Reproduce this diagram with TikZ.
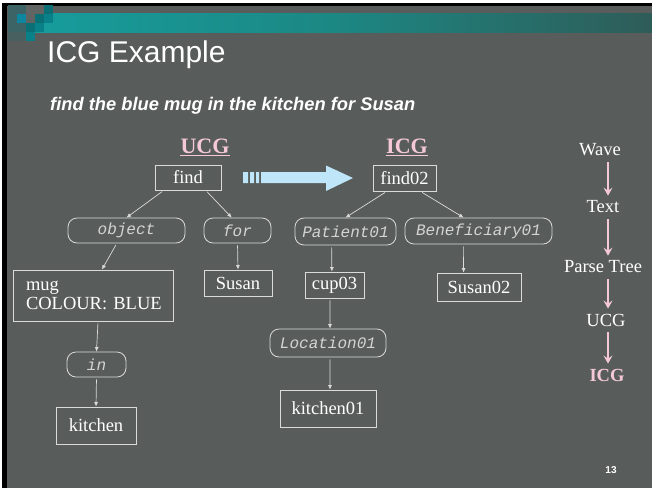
\documentclass[tikz,border=0pt]{standalone}
\usepackage{fontspec}
\setmainfont{Liberation Serif}
\newfontfamily\slidefont{Liberation Sans}
\newfontfamily\rolefont{Liberation Mono}
\usetikzlibrary{arrows.meta}

\definecolor{slidebg}{RGB}{88,93,91}
\definecolor{barleft}{RGB}{22,158,158}
\definecolor{barmid}{RGB}{28,136,132}
\definecolor{barright}{RGB}{46,92,88}
\definecolor{tealA}{RGB}{60,100,102}
\definecolor{tealB}{RGB}{14,134,160}
\definecolor{tealC}{RGB}{10,112,118}
\definecolor{tealD}{RGB}{10,128,136}
\definecolor{tealE}{RGB}{72,96,96}
\definecolor{tealG}{RGB}{96,100,98}
\definecolor{boxline}{RGB}{218,218,218}
\definecolor{rolegrey}{RGB}{212,212,212}
\definecolor{headpink}{RGB}{245,200,215}
\definecolor{bigarrow}{RGB}{190,230,248}

\begin{document}
\begin{tikzpicture}[x=1pt,y=-1pt,
  box/.style={draw=boxline,line width=0.8pt,text=white,inner sep=0pt,
    font=\fontsize{18.5}{19}\selectfont},
  role/.style={draw=boxline,line width=0.8pt,rounded corners=9pt,text=rolegrey,
    inner sep=0pt,font=\rolefont\itshape\fontsize{16}{18}\selectfont},
  link/.style={draw=boxline,line width=0.7pt,shorten <=2pt,
    -{Latex[length=4.5pt,width=4pt]}},
  head/.style={text=headpink,inner sep=0pt,font=\bfseries\fontsize{22}{24}\selectfont},
  stage/.style={text=white,inner sep=1pt,font=\fontsize{18.5}{20}\selectfont},
  flow/.style={draw=headpink,line width=1.6pt,shorten <=5pt,shorten >=4pt,
    -{Stealth[length=8pt,width=9pt,inset=3pt]}}]

\useasboundingbox (0,0) rectangle (652,488);

% slide
\fill[slidebg] (0,0) rectangle (652,488);
\fill[white] (0,0) rectangle (652,3);
\fill[black] (0,3) rectangle (652,6);
\fill[white] (0,0) rectangle (2,488);
\fill[black] (2,3) rectangle (7,488);
\shade[left color=barleft,right color=barright,middle color=barmid] (8,13) rectangle (652,32);
\foreach \cx/\cy/\cc in {8/5/tealA, 17/5/tealA, 26/5/tealG, 35/5/tealG, 44/5/tealC,
    8/14/tealA, 17/14/tealB, 26/14/tealG, 35/14/tealC, 44/14/tealD,
    8/23/tealA, 17/23/tealA, 26/23/tealC, 35/23/tealD,
    8/32/tealE, 17/32/tealE, 26/32/tealD}
  \fill[\cc] (\cx,\cy) rectangle ++(9,9);

\node[anchor=base west,text=white,inner sep=0pt,font=\slidefont\fontsize{30}{32}\selectfont] (title) at (47,62) {ICG Example};
\node[anchor=base west,text=white,inner sep=0pt,font=\slidefont\bfseries\itshape\fontsize{18.3}{20}\selectfont] (sentence) at (50,110) {find the blue mug in the kitchen for Susan};

% UCG
\node[head,anchor=base] (ucghead) at (205,153) {UCG};
\draw[headpink,line width=1.3pt] ([yshift=-2.5pt]ucghead.base west) -- ([yshift=-2.5pt]ucghead.base east);
\node[box,minimum width=66pt,minimum height=25pt] (find) at (188,177.5) {find};
\node[role,minimum width=117pt,minimum height=25pt] (object) at (126.5,230.5) {object};
\node[role,minimum width=67pt,minimum height=25pt] (forrel) at (237.5,230.5) {for};
\node[box,minimum width=160pt,minimum height=51pt,text width=134pt,align=left] (mug) at (93,295.5) {mug\\COLOUR:~BLUE};
\node[box,minimum width=68pt,minimum height=26pt] (Susan) at (238,283) {Susan};
\node[role,minimum width=59pt,minimum height=25pt] (inrel) at (96.5,364.5) {in};
\node[box,minimum width=80pt,minimum height=37pt] (kitchen) at (96,425.5) {kitchen};

% ICG
\node[head,anchor=base] (icghead) at (407,153) {ICG};
\draw[headpink,line width=1.3pt] ([yshift=-2.5pt]icghead.base west) -- ([yshift=-2.5pt]icghead.base east);
\node[box,minimum width=63pt,minimum height=26pt] (find02) at (404.5,178) {find02};
\node[role,minimum width=101pt,minimum height=27pt] (Patient01) at (345.5,231.5) {Patient01};
\node[role,minimum width=147pt,minimum height=26pt] (Beneficiary01) at (478.5,231) {Beneficiary01};
\node[box,minimum width=59pt,minimum height=26pt] (cup03) at (334.5,285) {cup03};
\node[box,minimum width=84pt,minimum height=28pt] (Susan02) at (479,287) {Susan02};
\node[role,minimum width=116pt,minimum height=28pt] (Location01) at (328,343) {Location01};
\node[box,minimum width=96pt,minimum height=37pt] (kitchen01) at (328,408.5) {kitchen01};

\foreach \from/\to in {find.208/object.north, find.324/forrel.114, object.233/mug.71,
    forrel.south/Susan.north, mug.281/inrel.north, inrel.south/kitchen.north,
    find02.217/Patient01.north, find02.320/Beneficiary01.138, Patient01.225/cup03.101,
    Beneficiary01.222/Susan02.137, cup03.251/Location01.82, Location01.278/kitchen01.84}
  \draw[link] (\from) -- (\to);

% mapping arrow
\fill[bigarrow] (243,172) rectangle (248,183) (250,172) rectangle (254,183)
  (256,172) rectangle (259,183);
\fill[bigarrow] (261,172) -- (326,172) -- (326,165.5) -- (353,178) -- (326,191)
  -- (326,183) -- (261,183) -- cycle;

% pipeline
\node[stage] (wave) at (600,150) {Wave};
\node[stage] (txt) at (603,207) {Text};
\node[stage] (parse) at (603,267) {Parse Tree};
\node[stage] (ucgstage) at (606,320) {UCG};
\node[stage,text=headpink,font=\bfseries\fontsize{18.5}{20}\selectfont] (icgstage) at (607,375) {ICG};
\coordinate (flowx) at (608,0);
\foreach \from/\to in {wave/txt, txt/parse, parse/ucgstage, ucgstage/icgstage}
  \draw[flow] (\from.south -| flowx) -- (\to.north -| flowx);

\node[text=white,font=\slidefont\bfseries\fontsize{10}{12}\selectfont] (pagenum) at (611,470) {13};

\end{tikzpicture}
\end{document}
